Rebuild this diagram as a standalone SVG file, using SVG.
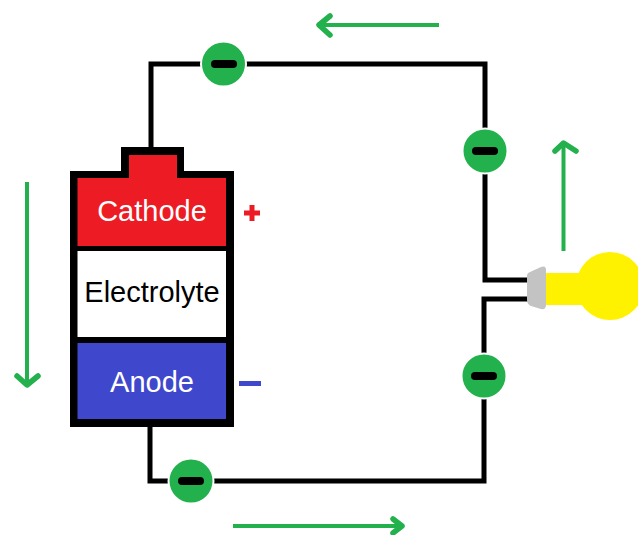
<svg xmlns="http://www.w3.org/2000/svg" width="638" height="535" viewBox="0 0 638 535">
<style>
.wire{fill:none;stroke:#000;stroke-width:5}
.flow{fill:none;stroke:#22b14c;stroke-width:4}
.head{fill:none;stroke:#22b14c;stroke-width:5.500;stroke-linecap:round;stroke-linejoin:round}
.e{fill:#22b14c;stroke:#fff;stroke-width:2}
.bar{stroke:#000;stroke-width:8;stroke-linecap:round}
.t{font-family:"Liberation Sans",Arial,sans-serif;font-size:29px;text-anchor:middle}
</style>
<rect width="638" height="535" fill="#fff"/>
<g id="connectors">
<path class="wire" d="M151 147V64H485V280H530"/>
<path class="wire" d="M530 299H484V481H150V427"/>
</g>
<g id="flow-arrows">
<path class="flow" d="M439 25H320"/><path class="head" d="M330 16L319 25L330 35"/>
<path class="flow" d="M563.500 251V143"/><path class="head" d="M555 151L563.500 143L576 151"/>
<path class="flow" d="M27 182V385"/><path class="head" d="M17 376L27 385L38 376"/>
<path class="flow" d="M233 526H402"/><path class="head" d="M393 519L402 526L393 533"/>
</g>
<g id="battery">
<path d="M70 171H121V147H184V171H234V427H70Z" fill="#000"/>
<path d="M77.500 178H129V155H177V178H226V246H77.500Z" fill="#ed1c24"/>
<rect x="77.500" y="251" width="148.500" height="86" fill="#fff"/>
<rect x="77.500" y="343" width="148.500" height="76" fill="#3f48cc"/>
<text class="t" x="152" y="221" fill="#fff">Cathode</text>
<text class="t" x="152" y="302" fill="#000">Electrolyte</text>
<text class="t" x="152" y="392" fill="#fff">Anode</text>
</g>
<g id="plus"><path d="M244 213H260M252 205V221" stroke="#ed1c24" stroke-width="5" fill="none"/></g>
<g id="minus"><path d="M239 383.500H261" stroke="#3f48cc" stroke-width="5" fill="none"/></g>
<g id="bulb">
<circle cx="610" cy="286" r="34" fill="#fff200"/>
<rect x="546" y="273" width="40" height="32" fill="#fff200"/>
<path d="M530 272L541 267Q546 265 546 270V305Q546 310 541 309L531 306Q527 304 527 300V276Q527 273 530 272Z" fill="#c3c3c3"/>
</g>
<g id="electron-1"><circle class="e" cx="223.500" cy="64" r="22.500"/><path class="bar" d="M215 64H233"/></g>
<g id="electron-2"><circle class="e" cx="485" cy="151" r="22.500"/><path class="bar" d="M476 151H494"/></g>
<g id="electron-3"><circle class="e" cx="484" cy="376" r="22.500"/><path class="bar" d="M475 376H493"/></g>
<g id="electron-4"><circle class="e" cx="191" cy="481" r="22.500"/><path class="bar" d="M182 481H200"/></g>
</svg>
